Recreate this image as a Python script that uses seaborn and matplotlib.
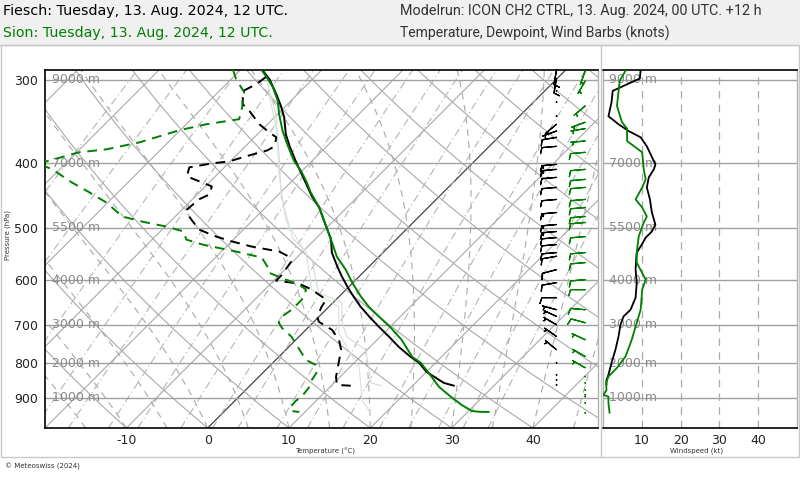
import numpy as np
import pandas as pd
import matplotlib
matplotlib.use("Agg")
import matplotlib.pyplot as plt
import seaborn as sns
from matplotlib.transforms import blended_transform_factory
from matplotlib.patches import Rectangle
from matplotlib.lines import Line2D

sns.set_theme(style="white")
plt.rcParams['font.family'] = ['DejaVu Sans']

# ---------------- data ----------------
# Fiesch temperature profile
fiesch_t_p = [290, 299.3, 315.3, 328.3, 341.5, 362.2, 377.2, 397.3, 416.1, 433.3, 448.6, 466.5,
              521.2, 545.2, 572.3, 592.5, 613.4, 635.0, 657.5, 680.6, 704.6, 729.5, 755.2,
              781.8, 798.3, 823.6, 840.9, 855.6, 864]
fiesch_t = [-37.3, -35.3, -32.6, -30.6, -28.8, -26.5, -24.6, -22.0, -19.6, -17.5, -15.7, -13.4,
            -8.0, -6.3, -3.9, -2.1, -0.2, 1.8, 3.9, 6.2, 8.6, 11.1, 13.5,
            16.2, 18.0, 20.0, 21.9, 23.5, 25.1]
# Fiesch dewpoint profile
fiesch_td_p = [297.2, 304.6, 312.0, 326.4, 334.4, 349.8, 359.7, 366.0, 377.6, 382.9, 390.9, 397.7,
               400.5, 406.1, 418.9, 433.7, 446.0, 453.7, 469.7, 481.2, 503.4, 515.8, 524.8,
               534.0, 543.3, 552.8, 562.5, 588.4, 600.8, 607.1, 619.8, 641.7, 657.5, 680.6,
               692.5, 712.0, 737.1, 763.1, 798.3, 838.0, 861.5, 864]
fiesch_td = [-36.0, -36.3, -37.1, -35.5, -33.8, -31.0, -28.8, -27.3, -26.4, -26.8, -28.7, -30.1,
             -32.0, -34.3, -33.5, -29.2, -28.5, -29.2, -29.4, -28.3, -25.5, -22.5, -19.9,
             -16.9, -12.9, -11.1, -10.2, -9.7, -9.7, -6.5, -4.2, -1.2, -0.9, -0.2,
             0.6, 3.2, 5.3, 6.8, 8.1, 9.5, 10.6, 12.4]
# Sion temperature profile
sion_t_p = [290, 297.2, 307.7, 322.7, 337.9, 358.1, 374.9, 397.3, 411.3, 427.8, 442.8, 466.5,
            526.7, 552.8, 578.3, 604.9, 635.0, 657.5, 680.6, 707.1, 737.1, 781.8, 798.3,
            826.5, 867.5, 898.1, 923.4, 942.8, 945.5, 946]
sion_t = [-37.4, -35.9, -33.9, -31.6, -29.8, -27.3, -25.1, -22.2, -20.1, -18.0, -16.3, -13.4,
          -7.5, -5.2, -2.5, -0.1, 2.7, 4.9, 7.4, 10.2, 13.0, 16.4, 18.2,
          20.4, 23.4, 26.1, 28.4, 30.4, 31.4, 32.6]
# Sion dewpoint profile
sion_td_p = [290, 299.3, 304.6, 313.1, 323.0, 329.8, 343.8, 349.8, 357.2, 372.4, 381.5, 385.5,
             397.7, 400.0, 408.9, 427.8, 442.8, 458.5, 481.2, 489.7, 498.2, 506.9, 521.2,
             530.3, 543.3, 554.7, 572.3, 584.4, 598.7, 609.2, 619.8, 641.7, 664.3, 680.6,
             694.9, 707.1, 729.5, 750.0, 771.1, 790.0, 803.8, 826.5, 846.7, 870.6, 898.1,
             910.7, 929.8, 943.0, 946]
sion_td = [-40.9, -39.4, -38.4, -36.8, -35.9, -35.2, -34.1, -37.5, -40.1, -43.5, -46.7, -49.7,
           -52.6, -53.6, -50.9, -46.9, -43.5, -40.2, -36.5, -33.5, -29.9, -27.1, -25.8,
           -23.2, -18.2, -14.3, -12.5, -11.6, -8.6, -6.4, -4.9, -4.2, -4.2, -4.6,
           -4.2, -3.2, -0.9, 0.7, 2.3, 3.7, 5.5, 6.6, 6.9, 7.5, 7.7,
           7.5, 7.6, 8.2, 9.3]
# faint auxiliary profiles
fiesch_aux_p = [304.6, 337.9, 383.8, 450.6, 517.6, 558.6, 626.3, 648.4, 694.9, 729.5, 763.1,
                809.4, 855.6, 864]
fiesch_aux = [-34.9, -30.2, -25.3, -19.3, -13.0, -7.9, -3.0, 1.1, 3.6, 5.9, 9.8, 12.3, 14.5, 16.2]
sion_aux_p = [315.3, 358.1, 416.1, 489.1, 545.2, 584.4, 619.8, 657.5, 719.4, 763.1, 809.4,
              867.5, 907.5, 946]
sion_aux = [-33.5, -28.0, -22.4, -15.8, -9.5, -6.6, -4.2, 1.2, 4.4, 7.7, 11.1, 13.8, 15.5, 18.0]

# wind profiles (speed in kt, direction in degrees)
fiesch_w_p = [290, 298.6, 311.7, 324.2, 340.3, 349.8, 358.1, 366.0, 377.6, 401.9, 408.9, 420.4,
              435.2, 453.7, 474.7, 494.8, 506.9, 517.6, 530.3, 545.2, 552.2, 578.3, 604.9,
              637.2, 664.3, 679.9, 699.8, 728.7, 763.1, 798.3, 832.2, 846.7, 861.5]
fiesch_w_spd = [9.7, 9.5, 2.5, 2.2, 1.4, 4.0, 6.6, 9.7, 11.3, 13.5, 13.1, 11.8,
                11.3, 12.1, 12.6, 13.5, 12.6, 11.0, 10.0, 8.7, 8.6, 8.4, 8.7,
                8.4, 7.1, 5.3, 4.5, 4.0, 3.2, 2.2, 1.4, 0.9, 0.9]
fiesch_w_dir = [190, 190, 185, 185, 200, 230, 250, 260, 265, 265, 265, 265,
                265, 265, 265, 265, 265, 265, 265, 265, 260, 255, 260,
                270, 285, 295, 300, 305, 310, 310, 310, 310, 310]
sion_w_p = [290.8, 301.1, 328.3, 347.4, 355.1, 370.7, 385.5, 408.9, 423.3, 435.2, 453.7,
            466.5, 481.2, 491.3, 515.8, 545.2, 564.4, 598.7, 619.8, 664.3, 694.9, 737.1,
            781.1, 812.2, 837.1, 855.6, 876.6, 891.9, 897.2, 917.0, 949.3]
sion_w_spd = [5.8, 4.3, 3.6, 4.9, 6.2, 6.2, 10.1, 10.5, 11.0, 10.1, 8.4,
              10.1, 11.3, 10.5, 9.2, 8.7, 8.7, 11.0, 10.1, 9.7, 8.7, 7.4,
              5.8, 3.6, 1.4, 0.8, 0.9, 0.1, 1.4, 1.4, 1.7]
sion_w_dir = [200, 210, 230, 250, 260, 265, 265, 265, 265, 265, 265,
              265, 265, 265, 265, 265, 265, 265, 270, 275, 285, 295,
              300, 300, 300, 300, 300, 300, 300, 300, 300]

pressure_levels = [300, 400, 500, 600, 700, 800, 900]
altitude_labels = ["9000 m", "7000 m", "5500 m", "4000 m", "3000 m", "2000 m", "1000 m"]
temp_ticks = [-10, 0, 10, 20, 30, 40]
wind_ticks = [10, 20, 30, 40]

# ---------------- figure ----------------
P_BOT, P_TOP = 1000.0, 290.0
X_MIN, X_MAX = -20.0, 48.0
W, H = 800, 480
AX_L, AX_R, AX_T, AX_B = 45, 598, 70, 428
WX_L, WX_R = 603, 797

fig = plt.figure(figsize=(8, 4.8), dpi=100)
fig.patch.set_facecolor('white')
fig.patches.append(Rectangle((0, 1 - 45 / H), 1, 45 / H, transform=fig.transFigure,
                             facecolor='#f0f0f0', edgecolor='none', zorder=0))
fig.add_artist(Line2D([0, 1], [1 - 45 / H, 1 - 45 / H], transform=fig.transFigure,
                      color='#c8c8c8', lw=1))

ax = fig.add_axes([AX_L / W, 1 - AX_B / H, (AX_R - AX_L) / W, (AX_B - AX_T) / H])
axw = fig.add_axes([WX_L / W, 1 - AX_B / H, (WX_R - WX_L) / W, (AX_B - AX_T) / H])

ax.set_yscale('log')
ax.set_ylim(P_BOT, P_TOP)
ax.set_xlim(X_MIN, X_MAX)

K = ((AX_B - AX_T) / np.log(P_BOT / P_TOP)) / ((AX_R - AX_L) / (X_MAX - X_MIN))


def skew(T, p):
    return np.asarray(T, dtype=float) + K * np.log(P_BOT / np.asarray(p, dtype=float))


pp = np.geomspace(P_BOT, P_TOP * 0.97, 160)
grid_c = '#a9a9a9'
# isotherms
for T0 in range(-80, 60, 10):
    ax.plot(skew(np.full_like(pp, T0), pp), pp, color='#444444' if T0 == 0 else grid_c,
            lw=0.9 if T0 == 0 else 0.8, zorder=1)
# dry adiabats
for th in range(-30, 140, 10):
    T = (th + 273.15) * (pp / 1000.0) ** 0.2857 - 273.15
    ax.plot(skew(T, pp), pp, color=grid_c, lw=0.8, zorder=1)


# moist adiabats
def esat(Tc):
    return 6.112 * np.exp(17.67 * Tc / (Tc + 243.5))


def moist_rate(Tk, pk):
    es = esat(Tk - 273.15)
    rs = 0.622 * es / (pk - es)
    num = 287.0 * Tk + 2.501e6 * rs
    den = 1005.7 + (2.501e6 ** 2) * rs * 0.622 / (287.0 * Tk ** 2)
    return num / den / pk


def moist_lapse(T0):
    Ts = [T0]
    T = T0 + 273.15
    for i in range(1, len(pp)):
        p = pp[i - 1]
        dp = pp[i] - p
        k1 = moist_rate(T, p)
        k2 = moist_rate(T + 0.5 * dp * k1, p + 0.5 * dp)
        k3 = moist_rate(T + 0.5 * dp * k2, p + 0.5 * dp)
        k4 = moist_rate(T + dp * k3, p + dp)
        T = T + dp / 6 * (k1 + 2 * k2 + 2 * k3 + k4)
        Ts.append(T - 273.15)
    return np.array(Ts)


for T0 in range(-20, 55, 5):
    ax.plot(skew(moist_lapse(T0), pp), pp, color=grid_c, lw=0.8, ls=(0, (6, 5)), zorder=1)

# mixing ratio lines
for w in [0.1, 0.2, 0.4, 0.7, 1, 1.5, 2, 3, 4, 5, 7, 9, 12, 16, 20, 25, 30, 36]:
    e = pp * (w / 1000.0) / (0.622 + w / 1000.0)
    x = np.log(e / 6.112)
    Td = 243.5 * x / (17.67 - x)
    ax.plot(skew(Td, pp), pp, color='#b4b4b4', lw=0.8, ls=(0, (7, 3, 1, 3)), zorder=1)

# pressure level lines
for axx in (ax, axw):
    for p in pressure_levels:
        axx.axhline(p, color='#a0a0a0', lw=1.0, zorder=1)
    for p, lab in zip(pressure_levels, altitude_labels):
        axx.text(0.012 if axx is ax else 0.03, p, lab,
                 transform=blended_transform_factory(axx.transAxes, axx.transData),
                 va='center', ha='left', fontsize=9, color='#8a8a8a', zorder=2)

# faint auxiliary profiles
ax.plot(skew(fiesch_aux, fiesch_aux_p), fiesch_aux_p, color='#d9d9d9', lw=0.8, zorder=2)
ax.plot(skew(sion_aux, sion_aux_p), sion_aux_p, color='#cfe8cf', lw=0.8, zorder=2)

GREEN = '#008000'
profiles = [
    (fiesch_t, fiesch_t_p, 'black', '-', 1.4),
    (sion_t, sion_t_p, GREEN, '-', 1.4),
    (fiesch_td, fiesch_td_p, 'black', (0, (5, 3.5)), 1.4),
    (sion_td, sion_td_p, GREEN, (0, (5, 3.5)), 1.4),
]
for T, P, col, ls, lw in profiles:
    df = pd.DataFrame({'x': skew(T, P), 'p': P})
    sns.lineplot(data=df, x='x', y='p', sort=False, estimator=None, color=col,
                 linestyle=ls, lw=lw, ax=ax, zorder=4)

# wind barbs
trans = blended_transform_factory(ax.transAxes, ax.transData)
for P, S, D, col, xpos in [(fiesch_w_p, fiesch_w_spd, fiesch_w_dir, 'black', 0.925),
                           (sion_w_p, sion_w_spd, sion_w_dir, GREEN, 0.977)]:
    S = np.asarray(S); D = np.deg2rad(np.asarray(D))
    u = -S * np.sin(D); v = -S * np.cos(D)
    ax.barbs(np.full(len(P), xpos), P, u, v, transform=trans, length=4.6, color=col,
             lw=0.9, zorder=5, sizes=dict(emptybarb=0.01), flip_barb=True, clip_on=False)

ax.set_xticks(temp_ticks)
ax.set_xticklabels([str(t) for t in temp_ticks])
ax.set_yticks(pressure_levels)
ax.set_yticklabels([str(p) for p in pressure_levels])
ax.yaxis.set_minor_locator(matplotlib.ticker.NullLocator())
ax.set_xlabel('')
ax.set_ylabel('')
ax.tick_params(axis='both', length=0, labelsize=9, colors='#222222', pad=5)
ax.tick_params(axis='x', pad=4)
for side in ['left', 'bottom', 'top']:
    ax.spines[side].set_color('black')
    ax.spines[side].set_linewidth(1.2)
ax.spines['right'].set_color('#b0b0b0')
ax.spines['right'].set_linewidth(1.0)

# wind speed panel
axw.set_yscale('log')
axw.set_ylim(P_BOT, P_TOP)
axw.set_xlim(0, 50)
for t in wind_ticks:
    axw.axvline(t, color='#a9a9a9', lw=0.9, ls=(0, (6, 5)), zorder=1)
sns.lineplot(x=fiesch_w_spd, y=fiesch_w_p, sort=False, estimator=None, color='black',
             lw=1.3, ax=axw, zorder=4)
sns.lineplot(x=sion_w_spd, y=sion_w_p, sort=False, estimator=None, color=GREEN,
             lw=1.3, ax=axw, zorder=4)
axw.set_xticks(wind_ticks)
axw.set_xticklabels([str(t) for t in wind_ticks])
axw.set_yticks([])
axw.yaxis.set_minor_locator(matplotlib.ticker.NullLocator())
axw.set_xlabel('')
axw.set_ylabel('')
axw.tick_params(axis='both', length=0, labelsize=9, colors='#222222', pad=4)
for side in ['bottom', 'top']:
    axw.spines[side].set_color('black')
    axw.spines[side].set_linewidth(1.2)
for side in ['left', 'right']:
    axw.spines[side].set_color('#b0b0b0')
    axw.spines[side].set_linewidth(1.0)

# outer frame
fig.add_artist(Rectangle((1 / W, 1 - 457 / H), 798 / W, (457 - 45) / H, transform=fig.transFigure,
                         fill=False, edgecolor='#c8c8c8', lw=1))
fig.add_artist(Line2D([601 / W, 601 / W], [1 - 457 / H, 1 - 45 / H], transform=fig.transFigure,
                      color='#c8c8c8', lw=1))

# texts
fig.text(3 / W, 1 - 11 / H, "Fiesch: Tuesday, 13. Aug. 2024, 12 UTC.", va='center', ha='left',
         fontsize=10.3, color='black')
fig.text(3 / W, 1 - 33 / H, "Sion: Tuesday, 13. Aug. 2024, 12 UTC.", va='center', ha='left',
         fontsize=10.2, color=GREEN)
fig.text(400 / W, 1 - 11 / H, "Modelrun: ICON CH2 CTRL, 13. Aug. 2024, 00 UTC. +12 h", va='center',
         ha='left', fontsize=10.4, color='#333333', family=['Roboto', 'DejaVu Sans'])
fig.text(400 / W, 1 - 33 / H, "Temperature, Dewpoint, Wind Barbs (knots)", va='center',
         ha='left', fontsize=10.1, color='#333333', family=['Roboto', 'DejaVu Sans'])
fig.text(325 / W, 1 - 451 / H, "Temperature (°C)", va='center', ha='center', fontsize=5,
         color='#333333')
fig.text(697 / W, 1 - 451 / H, "Windspeed (kt)", va='center', ha='center', fontsize=5,
         color='#333333')
fig.text(8 / W, 1 - 235 / H, "Pressure (hPa)", va='center', ha='center', fontsize=5,
         color='#333333', rotation=90)
fig.text(5 / W, 1 - 466 / H, "© Meteoswiss (2024)", va='center', ha='left', fontsize=5,
         color='#333333')

fig.savefig('out.png', dpi=100)
